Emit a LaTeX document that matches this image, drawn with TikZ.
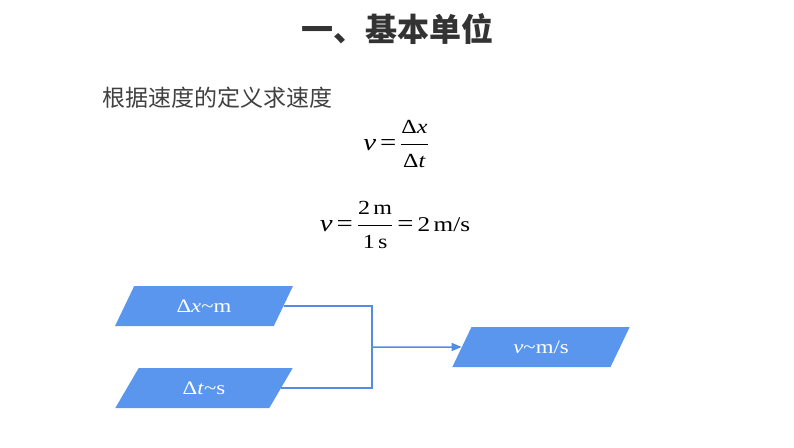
\documentclass[tikz,border=0pt]{standalone}
\usepackage{fontspec}
\setmainfont{Liberation Serif}[FakeStretch=1.2]
\newfontfamily\cjk{Noto Sans CJK SC}
\usetikzlibrary{shapes.geometric,arrows.meta}
\definecolor{boxblue}{RGB}{90,150,238}
\definecolor{lineblue}{RGB}{85,140,225}
\definecolor{titlegray}{RGB}{51,51,51}
\definecolor{textgray}{RGB}{64,64,64}
\newcommand{\fracfs}{\fontsize{20}{20}\selectfont}
\tikzset{
  para/.style={trapezium, trapezium stretches=true, trapezium left angle=59, trapezium right angle=121,
    fill=boxblue, draw=none, minimum width=178pt, minimum height=40pt, inner sep=0pt,
    text=white, font=\fontsize{19}{19}\selectfont},
  conn/.style={draw=lineblue, line width=1.5pt},
  eqn/.style={anchor=base, inner sep=0pt, font=\fontsize{24}{24}\selectfont},
}
\begin{document}
\begin{tikzpicture}[x=1pt,y=-1pt]
\useasboundingbox (0,0) rectangle (794,447);
\node[font=\cjk\bfseries\fontsize{32}{32}\selectfont, text=titlegray] (title) at (397,29) {一、基本单位};
\node[font=\cjk\fontsize{23}{23}\selectfont, text=textgray, anchor=west, inner sep=0pt] (sub) at (102,98) {根据速度的定义求速度};
\node[eqn] (eq1) at (396,150) {$\displaystyle \mbox{\textit{v}\,=\,}\frac{\mbox{\fracfs Δ\textit{x}}}{\mbox{\fracfs Δ\textit{t}}}$};
\node[eqn] (eq2) at (395,231) {$\displaystyle \mbox{\textit{v}\,=\,}\frac{\mbox{\fracfs 2\,m}}{\mbox{\fracfs 1\,s}}\mbox{\,=\,\fontsize{21}{21}\selectfont 2\,m/s}$};
\node[para] (a) at (204,306) {Δ\textit{x}\textasciitilde m};
\node[para] (b) at (204,388) {Δ\textit{t}\textasciitilde s};
\node[para] (c) at (541,347) {\textit{v}\textasciitilde m/s};
\coordinate (j) at (372,347);
\draw[conn] (a.east) -| (j);
\draw[conn] (b.east) -| (j);
\draw[conn, -{Triangle[length=10pt,width=8pt]}] (j) -- (c.west);
\end{tikzpicture}
\end{document}
